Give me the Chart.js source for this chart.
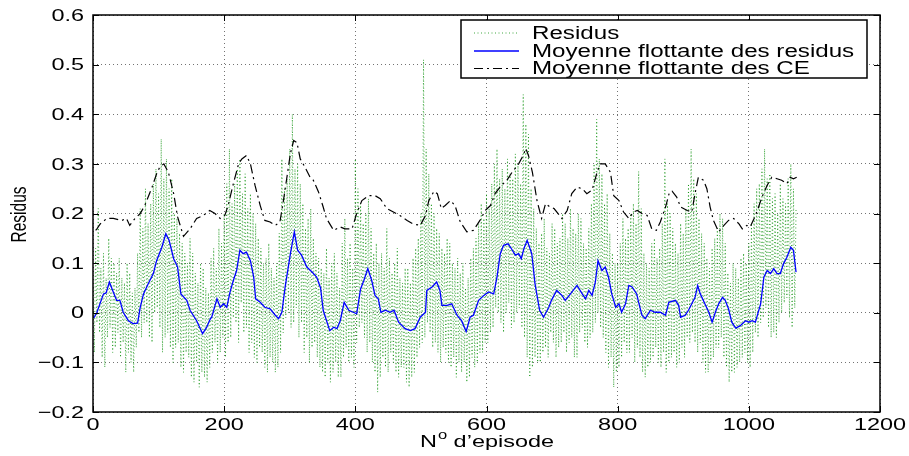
<!DOCTYPE html>
<html>
<head>
<meta charset="utf-8">
<script src="https://cdn.jsdelivr.net/npm/chart.js@4/dist/chart.umd.min.js"></script>
<style>
html,body{margin:0;padding:0;background:#fff;}
#wrap{width:909px;height:456px;}
</style>
</head>
<body>
<div id="wrap"><canvas id="c" width="909" height="456"></canvas></div>
<script>
// ---------- data ----------
const xTicks = [0, 200, 400, 600, 800, 1000, 1200];
const xTickLabels = ['0', '200', '400', '600', '800', '1000', '1200'];
const yTicks = [-0.2, -0.1, 0, 0.1, 0.2, 0.3, 0.4, 0.5, 0.6];
const yTickLabels = ['\u22120.2', '\u22120.1', '0', '0.1', '0.2', '0.3', '0.4', '0.5', '0.6'];
const seriesLabels = ['Residus', 'Moyenne flottante des residus', 'Moyenne flottante des CE'];
const xTitleMain = 'N';
const xTitleSup = 'o';
const xTitleRest = ' d\u2019episode';
const yTitle = 'Residus';

// residuals, one value every 2 episodes starting at episode 0
const residusStep = 2;
const residusValues = [
  0.05,-0.08,0.13,-0.02,0.21,-0.04,0.09,-0.09,0.12,-0.11,0.07,-0.05,0.15,-0.03,0.11,-0.08,0.10,-0.07,0.08,-0.04,
  0.11,-0.09,0.07,-0.06,0.06,-0.12,0.10,-0.08,0.08,-0.10,0.04,-0.12,0.05,-0.07,0.12,-0.04,0.21,-0.05,0.17,-0.02,
  0.25,-0.02,0.18,-0.05,0.22,-0.06,0.26,0.00,0.29,0.01,0.24,-0.03,0.35,-0.08,0.27,-0.05,0.31,-0.04,0.25,-0.07,
  0.27,-0.10,0.20,-0.07,0.19,-0.06,0.16,-0.11,0.14,-0.12,0.12,-0.08,0.10,-0.09,0.15,-0.13,0.12,-0.14,0.08,-0.10,
  0.06,-0.15,0.10,-0.12,0.09,-0.13,0.05,-0.14,0.04,-0.11,0.11,-0.08,0.13,-0.06,0.09,-0.10,0.17,-0.08,0.14,-0.05,
  0.20,-0.09,0.26,-0.06,0.33,-0.05,0.22,-0.01,0.26,-0.02,0.29,-0.06,0.31,0.02,0.24,-0.04,0.28,-0.03,0.21,-0.08,
  0.24,-0.06,0.20,-0.09,0.18,-0.10,0.15,-0.07,0.13,-0.08,0.10,-0.11,0.11,-0.12,0.14,-0.09,0.09,-0.10,0.07,-0.12,
  0.10,-0.11,0.16,-0.08,0.31,-0.04,0.25,-0.01,0.27,0.00,0.33,-0.03,0.40,-0.02,0.29,0.01,0.30,-0.05,0.26,-0.02,
  0.22,-0.08,0.17,-0.05,0.19,-0.10,0.21,-0.07,0.15,-0.06,0.12,-0.09,0.11,-0.11,0.09,-0.12,0.08,-0.13,0.13,-0.10,
  0.07,-0.14,0.10,-0.12,0.12,-0.10,0.08,-0.13,0.05,-0.13,0.14,-0.09,0.19,-0.07,0.11,-0.10,0.14,-0.09,0.09,-0.11,
  0.31,-0.06,0.25,-0.03,0.22,-0.02,0.18,-0.05,0.20,-0.08,0.23,-0.06,0.17,-0.10,0.12,-0.12,0.14,-0.16,0.10,-0.13,
  0.12,-0.09,0.09,-0.11,0.17,-0.12,0.11,-0.08,0.08,-0.10,0.10,-0.12,0.13,-0.13,0.07,-0.11,0.06,-0.11,0.09,-0.14,
  0.09,-0.15,0.06,-0.13,0.11,-0.12,0.13,-0.09,0.15,-0.07,0.20,-0.06,0.51,-0.05,0.33,-0.02,0.28,-0.04,0.22,-0.07,
  0.20,-0.06,0.17,-0.08,0.16,-0.10,0.13,-0.07,0.12,-0.08,0.15,-0.10,0.14,-0.11,0.10,-0.09,0.09,-0.13,0.11,-0.10,
  0.08,-0.12,0.10,-0.10,0.05,-0.14,0.07,-0.13,0.11,-0.09,0.13,-0.11,0.15,-0.10,0.18,-0.08,0.22,-0.08,0.19,-0.06,
  0.24,-0.06,0.21,-0.04,0.26,-0.03,0.30,0.01,0.33,0.00,0.27,-0.02,0.29,-0.04,0.25,0.00,0.31,0.02,0.28,-0.03,
  0.27,-0.02,0.32,0.00,0.30,0.01,0.26,-0.03,0.44,-0.05,0.38,-0.09,0.36,-0.13,0.25,-0.11,0.21,-0.09,0.17,-0.10,
  0.14,-0.10,0.16,-0.08,0.19,-0.07,0.13,-0.09,0.12,-0.04,0.18,-0.06,0.17,-0.09,0.14,-0.07,0.15,-0.06,0.20,-0.04,
  0.18,-0.08,0.15,-0.06,0.21,-0.05,0.17,-0.09,0.16,-0.09,0.20,-0.04,0.19,-0.03,0.14,-0.06,0.13,-0.07,0.17,-0.05,
  0.22,-0.04,0.30,-0.02,0.39,0.00,0.31,-0.03,0.28,-0.05,0.22,-0.08,0.24,-0.11,0.16,-0.09,0.12,-0.15,0.10,-0.12,
  0.10,-0.11,0.14,-0.09,0.19,-0.06,0.15,-0.08,0.17,-0.08,0.20,-0.05,0.22,-0.10,0.18,-0.07,0.285,-0.09,0.21,-0.12,
  0.12,-0.13,0.10,-0.11,0.09,-0.10,0.14,-0.09,0.15,-0.07,0.11,-0.10,0.13,-0.11,0.18,-0.08,0.31,-0.12,0.22,-0.10,
  0.20,-0.09,0.17,-0.08,0.14,-0.11,0.12,-0.10,0.18,-0.07,0.16,-0.09,0.21,-0.05,0.26,-0.06,0.33,-0.04,0.27,-0.06,
  0.24,-0.08,0.19,-0.06,0.16,-0.10,0.14,-0.12,0.11,-0.12,0.09,-0.10,0.13,-0.09,0.15,-0.07,0.17,-0.07,0.20,-0.05,
  0.19,-0.09,0.14,-0.11,0.08,-0.14,0.06,-0.12,0.10,-0.12,0.09,-0.11,0.07,-0.10,0.11,-0.09,0.12,-0.08,0.10,-0.10,
  0.14,-0.11,0.18,-0.08,0.22,-0.04,0.25,-0.05,0.26,-0.02,0.29,-0.01,0.33,0.01,0.27,-0.03,0.28,-0.05,0.23,-0.04,
  0.24,-0.05,0.20,-0.02,0.26,0.00,0.23,0.02,0.22,0.03,0.27,-0.01,0.30,-0.03,0.25,0.01,0.21
];

// moving average of the residuals
const moyResEpisodes = [
  0, 2, 6, 16, 20, 25, 30, 36, 41, 46, 54, 61, 68, 72, 77, 84, 92, 97, 105, 111,
  116, 123, 129, 134, 143, 148, 158, 167, 173, 179, 181, 189, 194, 199, 204, 209, 214, 219, 224, 229,
  234, 240, 245, 248, 255, 262, 270, 278, 283, 288, 293, 301, 307, 312, 318, 326, 334, 341, 347, 351,
  361, 367, 372, 377, 383, 390, 397, 402, 408, 413, 419, 425, 430, 435, 439, 446, 453, 459, 466, 476,
  484, 491, 499, 507, 509, 517, 524, 529, 532, 540, 547, 555, 562, 569, 575, 580, 588, 596, 603, 611,
  616, 621, 626, 633, 638, 644, 649, 653, 657, 662, 669, 674, 681, 687, 695, 699, 707, 715, 720, 728,
  738, 746, 751, 756, 761, 766, 770, 776, 781, 786, 791, 797, 802, 806, 812, 817, 822, 829, 832, 837,
  842, 850, 857, 865, 873, 878, 888, 893, 896, 903, 908, 913, 918, 922, 926, 934, 939, 944, 949, 954,
  960, 964, 969, 974, 980, 987, 995, 1000, 1005, 1010, 1018, 1023, 1028, 1033, 1038, 1043, 1048, 1053, 1058, 1064,
  1068, 1072
];
const moyResValues = [
  -0.010, -0.009, 0.001, 0.038, 0.040, 0.062, 0.045, 0.025, 0.025, 0.001, -0.016, -0.022, -0.021, 0.011, 0.038, 0.058, 0.079, 0.105, 0.132, 0.159,
  0.146, 0.109, 0.092, 0.038, 0.025, 0.005, -0.016, -0.042, -0.030, -0.012, -0.009, 0.028, 0.011, 0.018, 0.011, 0.042, 0.065, 0.085, 0.126, 0.119,
  0.122, 0.105, 0.072, 0.028, 0.021, 0.011, 0.008, -0.005, -0.012, 0.001, 0.052, 0.119, 0.163, 0.126, 0.116, 0.092, 0.082, 0.072, 0.050, 0.005,
  -0.036, -0.029, -0.032, -0.016, 0.021, 0.005, 0.001, -0.002, 0.048, 0.065, 0.089, 0.065, 0.035, 0.028, 0.001, 0.005, 0.001, 0.005, -0.019, -0.032,
  -0.036, -0.032, -0.009, 0.001, 0.045, 0.052, 0.062, 0.045, 0.015, 0.015, 0.018, -0.005, -0.016, -0.038, -0.009, -0.005, 0.025, 0.035, 0.042, 0.038,
  0.072, 0.119, 0.136, 0.139, 0.129, 0.116, 0.119, 0.109, 0.129, 0.146, 0.119, 0.058, 0.005, -0.009, 0.011, 0.025, 0.045, 0.035, 0.025, 0.038,
  0.055, 0.038, 0.028, 0.045, 0.035, 0.062, 0.105, 0.085, 0.092, 0.072, 0.038, 0.011, 0.018, 0.001, 0.018, 0.055, 0.052, 0.038, 0.021, -0.005,
  -0.012, 0.005, 0.001, 0.001, -0.005, 0.021, 0.025, 0.015, -0.009, -0.005, 0.005, 0.018, 0.031, 0.055, 0.038, 0.015, 0.001, -0.019, 0.001, 0.018,
  0.031, 0.025, 0.008, -0.019, -0.031, -0.026, -0.016, -0.019, -0.016, -0.019, 0.018, 0.072, 0.085, 0.079, 0.089, 0.079, 0.079, 0.099, 0.112, 0.132,
  0.126, 0.082
];

// moving average of the CE
const moyCEEpisodes = [
  4, 6, 11, 21, 31, 44, 51, 56, 64, 72, 79, 90, 97, 102, 108, 115, 123, 129, 138, 148,
  158, 168, 178, 186, 194, 201, 206, 214, 222, 227, 234, 240, 247, 255, 262, 270, 278, 285, 290, 295,
  301, 306, 311, 316, 323, 331, 336, 344, 351, 356, 367, 377, 384, 395, 402, 410, 420, 430, 438, 448,
  458, 468, 479, 488, 499, 507, 512, 520, 525, 528, 531, 537, 545, 552, 560, 570, 580, 590, 598, 606,
  613, 623, 631, 639, 649, 656, 660, 664, 670, 677, 684, 690, 697, 703, 715, 723, 730, 738, 746, 753,
  761, 768, 773, 781, 789, 794, 802, 809, 817, 824, 830, 837, 845, 852, 859, 865, 873, 879, 883, 890,
  896, 906, 913, 918, 923, 931, 936, 941, 946, 954, 962, 969, 977, 985, 990, 997, 1002, 1008, 1013, 1020,
  1028, 1035, 1043, 1050, 1058, 1063, 1068, 1073
];
const moyCEValues = [
  0.166, 0.169, 0.179, 0.190, 0.190, 0.186, 0.190, 0.176, 0.190, 0.200, 0.216, 0.253, 0.280, 0.294, 0.300, 0.283, 0.240, 0.193, 0.154, 0.169,
  0.190, 0.196, 0.206, 0.200, 0.190, 0.196, 0.216, 0.260, 0.300, 0.310, 0.317, 0.300, 0.257, 0.216, 0.186, 0.183, 0.176, 0.183, 0.223, 0.267,
  0.321, 0.347, 0.343, 0.310, 0.294, 0.273, 0.267, 0.243, 0.213, 0.190, 0.166, 0.173, 0.169, 0.169, 0.200, 0.226, 0.236, 0.236, 0.230, 0.210,
  0.203, 0.196, 0.186, 0.179, 0.176, 0.196, 0.226, 0.245, 0.240, 0.226, 0.210, 0.216, 0.226, 0.216, 0.183, 0.163, 0.166, 0.186, 0.206, 0.216,
  0.240, 0.257, 0.267, 0.283, 0.300, 0.317, 0.331, 0.317, 0.283, 0.226, 0.190, 0.220, 0.213, 0.210, 0.190, 0.206, 0.240, 0.253, 0.250, 0.240,
  0.247, 0.280, 0.300, 0.300, 0.283, 0.236, 0.226, 0.203, 0.190, 0.203, 0.206, 0.200, 0.196, 0.169, 0.166, 0.183, 0.213, 0.243, 0.245, 0.233,
  0.213, 0.206, 0.203, 0.240, 0.273, 0.267, 0.250, 0.213, 0.186, 0.163, 0.176, 0.186, 0.190, 0.179, 0.169, 0.176, 0.173, 0.190, 0.206, 0.233,
  0.257, 0.273, 0.270, 0.267, 0.260, 0.273, 0.270, 0.273
];

// ---------- build library structures ----------
const residusPoints = residusValues.map((v, i) => ({ x: i * residusStep, y: v }));
const moyResPoints = moyResEpisodes.map((e, i) => ({ x: e, y: moyResValues[i] }));
const moyCEPoints = moyCEEpisodes.map((e, i) => ({ x: e, y: moyCEValues[i] }));

const FONT = '"Liberation Sans", Arial, sans-serif';
const SX = 1.38; // horizontal stretch of the original figure's lettering

function stretchedText(ctx, text, x, y, size, align, baseline) {
  ctx.save();
  ctx.font = size + 'px ' + FONT;
  ctx.textAlign = align;
  ctx.textBaseline = baseline;
  ctx.translate(x, y);
  ctx.scale(SX, 1);
  ctx.fillText(text, 0, 0);
  ctx.restore();
}

const matlabPlugin = {
  id: 'matlabLook',
  afterDatasetsDraw(chart) {
    const ctx = chart.ctx;
    const a = chart.chartArea;
    const xs = chart.scales.x, ys = chart.scales.y;
    ctx.save();
    // axes box
    ctx.setLineDash([]);
    ctx.strokeStyle = '#000';
    ctx.lineWidth = 1.5;
    ctx.strokeRect(a.left, a.top, a.right - a.left, a.bottom - a.top);
    // inward ticks on all sides
    ctx.lineWidth = 1;
    ctx.beginPath();
    xTicks.forEach(v => {
      const px = Math.round(xs.getPixelForValue(v)) + 0.5;
      ctx.moveTo(px, a.bottom); ctx.lineTo(px, a.bottom - 6);
      ctx.moveTo(px, a.top); ctx.lineTo(px, a.top + 6);
    });
    yTicks.forEach(v => {
      const py = Math.round(ys.getPixelForValue(v)) + 0.5;
      ctx.moveTo(a.left, py); ctx.lineTo(a.left + 6, py);
      ctx.moveTo(a.right, py); ctx.lineTo(a.right - 6, py);
    });
    ctx.stroke();

    // tick labels
    ctx.fillStyle = '#000';
    xTicks.forEach((v, i) => {
      stretchedText(ctx, xTickLabels[i], xs.getPixelForValue(v), a.bottom + 5, 17, 'center', 'top');
    });
    yTicks.forEach((v, i) => {
      stretchedText(ctx, yTickLabels[i], a.left - 9, ys.getPixelForValue(v) + 1, 17, 'right', 'middle');
    });

    // y axis title (rotated; the figure's stretch widens the glyphs across)
    ctx.save();
    ctx.fillStyle = '#000';
    ctx.font = '15.5px ' + FONT;
    ctx.textAlign = 'center';
    ctx.textBaseline = 'middle';
    ctx.translate(20, (a.top + a.bottom) / 2 + 1);
    ctx.rotate(-Math.PI / 2);
    ctx.scale(1, SX);
    ctx.fillText(yTitle, 0, 0);
    ctx.restore();

    // legend box
    const lx = 461, ly = 20, lw = 406, lh = 58;
    ctx.fillStyle = '#fff';
    ctx.fillRect(lx, ly, lw, lh);
    ctx.strokeStyle = '#000';
    ctx.lineWidth = 1.5;
    ctx.strokeRect(lx, ly, lw, lh);
    const rows = [33, 51, 68.5];
    chart.data.datasets.forEach((ds, i) => {
      const y = rows[i];
      ctx.save();
      ctx.strokeStyle = ds.borderColor;
      ctx.lineWidth = ds.borderWidth;
      ctx.setLineDash(ds.borderDash || []);
      ctx.beginPath();
      ctx.moveTo(474, y); ctx.lineTo(519, y);
      ctx.stroke();
      ctx.restore();
      ctx.fillStyle = '#000';
      stretchedText(ctx, ds.label, 532, y + 1, 17.5, 'left', 'middle');
    });

    // x axis title with superscript
    ctx.fillStyle = '#000';
    ctx.font = '17px ' + FONT;
    const w1 = ctx.measureText(xTitleMain).width * SX;
    const w3 = ctx.measureText(xTitleRest).width * SX;
    ctx.font = '12px ' + FONT;
    const w2 = ctx.measureText(xTitleSup).width * SX;
    const cx = (a.left + a.right) / 2;
    const x0 = cx - (w1 + w2 + w3) / 2;
    const base = 447;
    stretchedText(ctx, xTitleMain, x0, base, 17, 'left', 'alphabetic');
    stretchedText(ctx, xTitleSup, x0 + w1 + 1, base - 8, 12, 'left', 'alphabetic');
    stretchedText(ctx, xTitleRest, x0 + w1 + w2 + 1, base, 17, 'left', 'alphabetic');
    ctx.restore();
  }
};

new Chart(document.getElementById('c'), {
  type: 'line',
  data: {
    datasets: [
      {
        label: seriesLabels[0],
        data: residusPoints,
        borderColor: 'rgba(0,140,0,0.75)',
        borderWidth: 1,
        borderDash: [1, 2.5],
        pointRadius: 0,
        tension: 0,
        order: 3
      },
      {
        label: seriesLabels[1],
        data: moyResPoints,
        borderColor: 'rgb(0,0,255)',
        borderWidth: 1.3,
        borderDash: [],
        pointRadius: 0,
        tension: 0,
        order: 2
      },
      {
        label: seriesLabels[2],
        data: moyCEPoints,
        borderColor: '#000',
        borderWidth: 1.2,
        borderDash: [9, 4, 2, 4],
        pointRadius: 0,
        tension: 0,
        order: 1
      }
    ]
  },
  options: {
    responsive: false,
    animation: false,
    devicePixelRatio: 1,
    layout: { padding: { left: 0, right: 29, top: 15, bottom: 0 } },
    plugins: {
      legend: { display: false },
      tooltip: { enabled: false }
    },
    scales: {
      x: {
        type: 'linear',
        min: 0, max: 1200,
        afterBuildTicks: s => { s.ticks = xTicks.map(v => ({ value: v })); },
        afterFit: s => { s.height = 44; },
        ticks: { display: false, autoSkip: false },
        grid: { color: 'rgba(0,0,0,0.55)', lineWidth: 1, drawTicks: false },
        border: { display: false, dash: [1, 3] }
      },
      y: {
        type: 'linear',
        min: -0.2, max: 0.6,
        afterBuildTicks: s => { s.ticks = yTicks.map(v => ({ value: v })); },
        afterFit: s => { s.width = 93; },
        ticks: { display: false, autoSkip: false },
        title: { display: false },
        grid: { color: 'rgba(0,0,0,0.55)', lineWidth: 1, drawTicks: false },
        border: { display: false, dash: [1, 3] }
      }
    }
  },
  plugins: [matlabPlugin]
});
</script>
</body>
</html>
